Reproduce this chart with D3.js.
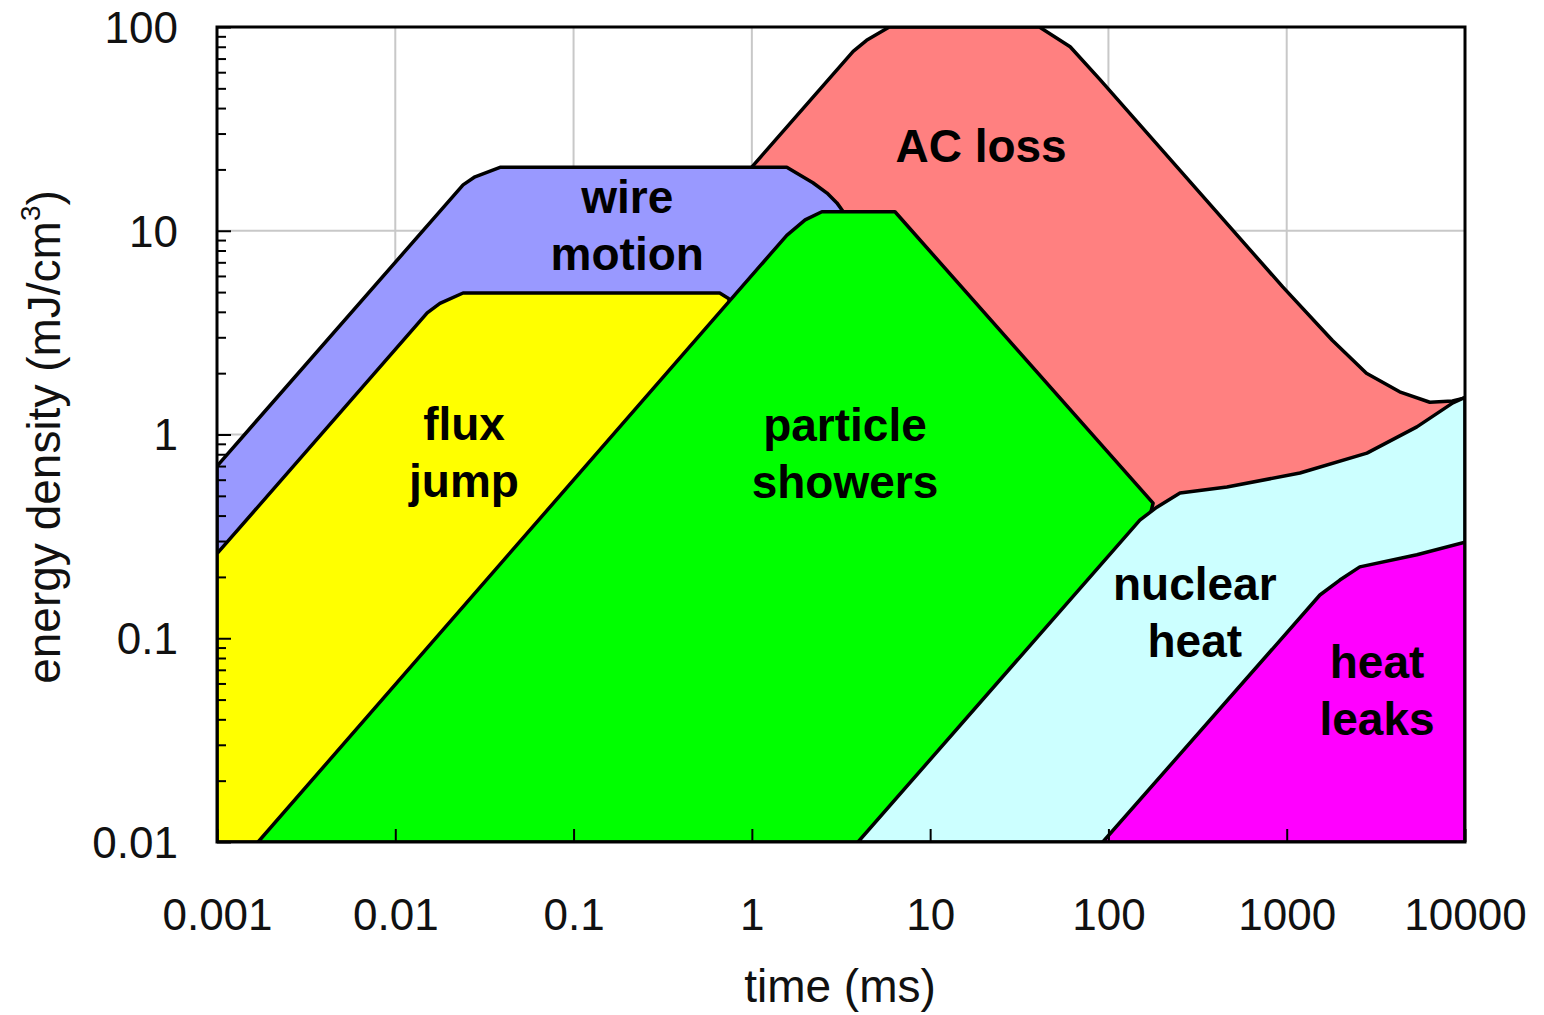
<!DOCTYPE html>
<html>
<head>
<meta charset="utf-8">
<script src="https://cdn.jsdelivr.net/npm/d3@7"></script>
<style>
  body { margin: 0; background: #fff; }
  text { font-family: "Liberation Sans", Arial, sans-serif; }
</style>
</head>
<body>
<script>
// energy density vs time for disturbance sources (log-log)

// axes
var xTicks = [0.001, 0.01, 0.1, 1, 10, 100, 1000, 10000],
    xTickLabels = ['0.001', '0.01', '0.1', '1', '10', '100', '1000', '10000'],
    yTicks = [0.01, 0.1, 1, 10, 100],
    yTickLabels = ['0.01', '0.1', '1', '10', '100'];

// regions as [time (ms), energy density (mJ/cm3)], back to front
var acLoss = [[0.9,18.5],[3.7,76],[4.4,86],[5.9,100],[41,100],[61,80],[90,55],[950,5.3],
              [1800,2.9],[2800,2.0],[4300,1.62],[6350,1.44],[8500,1.46],[10000,1.51],
              [10000,0.4],[200,0.2],[3,3]];
var wireMotion = [[0.001,0.7],[0.024,16.8],[0.028,18.4],[0.039,20.5],[1.57,20.5],[2.2,17.2],
                  [2.64,15.3],[3.0,13.7],[3.3,12.2],[3.0,1.0],[0.001,0.01]];
var fluxJump = [[0.001,0.26],[0.0151,3.95],[0.0178,4.4],[0.024,4.95],[0.66,4.95],[0.74,4.65],
                [0.78,4.0],[2.0,0.01],[0.001,0.01]];
var particleShowers = [[0.0017,0.01],[1.57,9.5],[1.99,11.3],[2.47,12.4],[6.35,12.4],[178,0.46],[60,0.01]];
var nuclearHeat = [[3.94,0.01],[150,0.38],[187,0.44],[252,0.516],[462,0.552],[1186,0.647],
                   [2818,0.81],[5370,1.09],[8550,1.43],[10000,1.52],[10000,0.01]];
var heatLeaks = [[93,0.01],[1535,0.163],[1986,0.193],[2570,0.224],[5370,0.257],[10000,0.296],[10000,0.01]];

var regions = [
  {pts: acLoss, color: '#ff8080', label: ['AC loss'], at: [19.3, 21.7]},
  {pts: wireMotion, color: '#9999ff', label: ['wire', 'motion'], at: [0.2, 12.2]},
  {pts: fluxJump, color: '#ffff00', label: ['flux', 'jump'], at: [0.0243, 0.94]},
  {pts: particleShowers, color: '#00ff00', label: ['particle', 'showers'], at: [3.33, 0.93]},
  {pts: nuclearHeat, color: '#ccffff', label: ['nuclear', 'heat'], at: [305, 0.154]},
  {pts: heatLeaks, color: '#ff00ff', label: ['heat', 'leaks'], at: [3210, 0.0638]}
];

var outerWidth = 1544,
    outerHeight = 1015,
    margin = {left:217, right:79, top:27, bottom:173},
    innerWidth = outerWidth - margin.left - margin.right,
    innerHeight = outerHeight - margin.top - margin.bottom;

var svg = d3.select('body').append('svg')
  .attr('width', outerWidth)
  .attr('height', outerHeight);

var g = svg.append('g')
  .attr('transform', 'translate(' + margin.left + ',' + margin.top + ')');

var xScale = d3.scaleLog().domain([0.001, 10000]).range([0, innerWidth]);
var yScale = d3.scaleLog().domain([0.01, 100]).range([innerHeight, 0]);

svg.append('defs').append('clipPath').attr('id', 'plot')
  .append('rect').attr('width', innerWidth).attr('height', innerHeight);

// grid
g.selectAll('.gx').data(xTicks.slice(1, -1)).enter().append('line')
  .attr('x1', xScale).attr('x2', xScale)
  .attr('y1', 0).attr('y2', innerHeight)
  .attr('stroke', '#c8c8c8').attr('stroke-width', 2);
g.selectAll('.gy').data(yTicks.slice(1, -1)).enter().append('line')
  .attr('y1', yScale).attr('y2', yScale)
  .attr('x1', 0).attr('x2', innerWidth)
  .attr('stroke', '#c8c8c8').attr('stroke-width', 2);

// regions
var line = d3.line()
  .x(function(d){ return xScale(d[0]); })
  .y(function(d){ return yScale(d[1]); });

var areas = g.append('g').attr('clip-path', 'url(#plot)');
areas.selectAll('path').data(regions).enter().append('path')
  .attr('d', function(d){ return line(d.pts) + 'Z'; })
  .attr('fill', function(d){ return d.color; })
  .attr('stroke', '#000')
  .attr('stroke-width', 3.5)
  .attr('stroke-linejoin', 'round');

// region labels
regions.forEach(function(r){
  var t = g.append('text')
    .attr('x', xScale(r.at[0]))
    .attr('y', yScale(r.at[1]))
    .attr('text-anchor', 'middle')
    .attr('font-size', 46)
    .attr('font-weight', 'bold')
    .attr('fill', '#000');
  r.label.forEach(function(s, i){
    t.append('tspan').attr('x', xScale(r.at[0])).attr('dy', i ? 57 : 0).text(s);
  });
});

// ticks, pointing inward
var xAxis = d3.axisBottom(xScale).tickValues(xTicks)
  .tickFormat(function(d, i){ return xTickLabels[i]; })
  .tickSize(-13);
var xg = g.append('g').attr('transform', 'translate(0,' + innerHeight + ')').call(xAxis);
xg.select('.domain').remove();
xg.selectAll('line').attr('stroke', '#000').attr('stroke-width', 2);
xg.selectAll('text').attr('y', 88).attr('dy', 0)
  .attr('font-size', 44).attr('fill', '#111');

var minor = [];
[0.01, 0.1, 1, 10].forEach(function(p){
  for (var k = 2; k <= 9; k++) minor.push(p * k);
});
var ymg = g.append('g').call(d3.axisLeft(yScale).tickValues(minor).tickSize(-9));
ymg.select('.domain').remove();
ymg.selectAll('text').remove();
ymg.selectAll('line').attr('stroke', '#000').attr('stroke-width', 2);

var yAxis = d3.axisLeft(yScale).tickValues(yTicks)
  .tickFormat(function(d, i){ return yTickLabels[i]; })
  .tickSize(-14);
var yg = g.append('g').call(yAxis);
yg.select('.domain').remove();
yg.selectAll('line').attr('stroke', '#000').attr('stroke-width', 2);
yg.selectAll('text').attr('x', -39).attr('dy', '0.35em')
  .attr('font-size', 44).attr('fill', '#111');

// frame
g.append('rect')
  .attr('width', innerWidth).attr('height', innerHeight)
  .attr('fill', 'none').attr('stroke', '#000').attr('stroke-width', 3);

// axis titles
svg.append('text')
  .attr('x', 840).attr('y', 1002)
  .attr('text-anchor', 'middle')
  .attr('font-size', 46).attr('fill', '#111')
  .text('time (ms)');

var yt = svg.append('text')
  .attr('transform', 'translate(60,437) rotate(-90)')
  .attr('text-anchor', 'middle')
  .attr('font-size', 46).attr('fill', '#111');
yt.append('tspan').text('energy density (mJ/cm');
yt.append('tspan').attr('font-size', 28).attr('dy', -20).text('3');
yt.append('tspan').attr('dy', 20).text(')');
</script>
</body>
</html>
